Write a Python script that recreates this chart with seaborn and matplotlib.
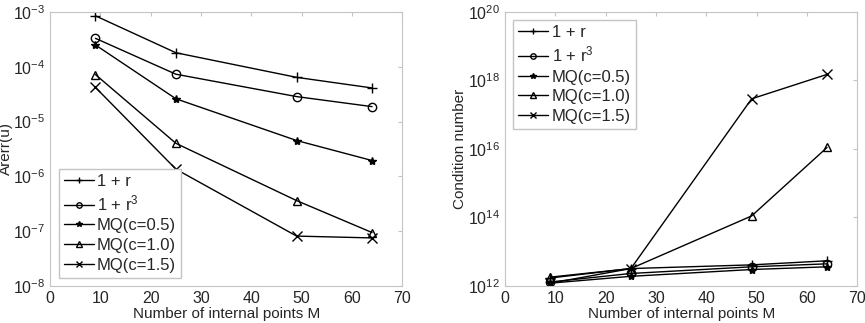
import matplotlib
matplotlib.use('Agg')
import matplotlib.pyplot as plt
import seaborn as sns

# Datos
M = [9, 25, 49, 64]
labels = ['1 + r', '1 + r$^3$', 'MQ(c=0.5)', 'MQ(c=1.0)', 'MQ(c=1.5)']
markers = ['+', 'o', '*', '^', 'x']

arerr_1r = [8.5e-4, 1.8e-4, 6.4e-5, 4.1e-5]
arerr_1r3 = [3.3e-4, 7.3e-5, 2.85e-5, 1.87e-5]
arerr_mq05 = [2.5e-4, 2.6e-5, 4.5e-6, 1.94e-6]
arerr_mq10 = [7.2e-5, 4.0e-6, 3.6e-7, 9.4e-8]
arerr_mq15 = [4.2e-5, 1.35e-6, 8.1e-8, 7.5e-8]

cond_1r = [1.7e12, 3.2e12, 4.1e12, 5.4e12]
cond_1r3 = [1.3e12, 2.3e12, 3.6e12, 4.4e12]
cond_mq05 = [1.2e12, 1.9e12, 3.0e12, 3.6e12]
cond_mq10 = [1.8e12, 3.2e12, 1.1e14, 1.1e16]
cond_mq15 = [1.2e12, 3.2e12, 2.9e17, 1.5e18]

sns.set_style('white')
plt.rcParams['font.family'] = ['Liberation Sans', 'DejaVu Sans']
plt.rcParams['mathtext.default'] = 'regular'
plt.rcParams['font.size'] = 11

fig = plt.figure(figsize=(8.65, 3.23), dpi=100)
ax1 = fig.add_axes([0.058, 0.115, 0.407, 0.848])
ax2 = fig.add_axes([0.584, 0.115, 0.407, 0.848])


def dibujar(ax, series):
    for y, lab, mk in zip(series, labels, markers):
        mfc = 'none' if mk in ('o', '^') else 'black'
        ms = 7 if mk in ('+', 'x') else 6
        sns.lineplot(x=M, y=y, ax=ax, color='black', marker=mk, label=lab,
                     markersize=ms, mfc=mfc, mec='black', mew=1.0, lw=1.0)
    ax.set_yscale('log')
    ax.set_xlim(0, 70)
    ax.set_xticks(range(0, 71, 10))
    ax.set_xlabel('Number of internal points M', labelpad=1)
    for s in ax.spines.values():
        s.set_color('#c4c4c4')
    ax.tick_params(direction='in', length=3, color='#c4c4c4', labelsize=11.5,
                   which='both', top=True, right=True)
    ax.tick_params(which='minor', length=0)


def leyenda(ax, loc):
    ax.legend(loc=loc, fancybox=False, edgecolor='#c4c4c4', fontsize=12,
              handlelength=1.8, handletextpad=0.2, borderpad=0.3,
              labelspacing=0.28, borderaxespad=0.5, markerscale=0.65,
              framealpha=1)


dibujar(ax1, [arerr_1r, arerr_1r3, arerr_mq05, arerr_mq10, arerr_mq15])
ax1.set_ylim(1e-8, 1e-3)
ax1.set_yticks([1e-8, 1e-7, 1e-6, 1e-5, 1e-4, 1e-3])
ax1.set_ylabel('Arerr(u)', labelpad=0)
leyenda(ax1, 'lower left')

dibujar(ax2, [cond_1r, cond_1r3, cond_mq05, cond_mq10, cond_mq15])
ax2.set_ylim(1e12, 1e20)
ax2.set_yticks([1e12, 1e14, 1e16, 1e18, 1e20])
ax2.set_ylabel('Condition number', labelpad=1)
leyenda(ax2, 'upper left')

fig.savefig('out.png', dpi=100)
